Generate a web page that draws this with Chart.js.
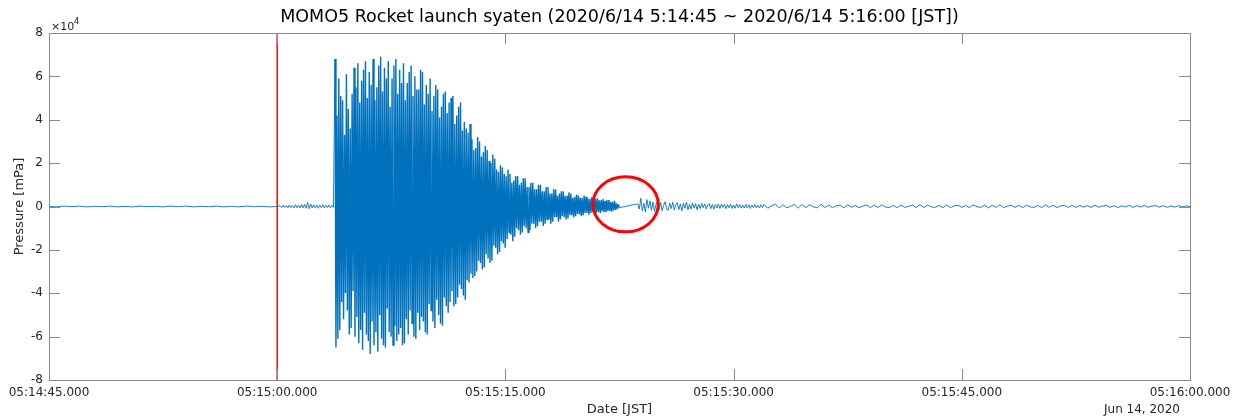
<!DOCTYPE html>
<html>
<head>
<meta charset="utf-8">
<title>MOMO5 Rocket launch</title>
<script src="https://cdn.jsdelivr.net/npm/chart.js@4.4.1/dist/chart.umd.min.js"></script>
<style>
  html, body { margin: 0; padding: 0; background: #fff; }
  #wrap { width: 1245px; height: 419px; }
</style>
</head>
<body>
<div id="wrap"><canvas id="chart" width="1245" height="419"></canvas></div>
<script>
// --- Data (time in seconds after 05:14:45, pressure in x10^4 mPa) ---
const xTickValues = [0, 15, 30, 45, 60, 75];
const xTickLabels = ['05:14:45.000', '05:15:00.000', '05:15:15.000', '05:15:30.000', '05:15:45.000', '05:16:00.000'];
const yTickValues = [-8, -6, -4, -2, 0, 2, 4, 6, 8];

// launch marker (red line) at 05:15:00
const launchTime = 15;

// quiet period before launch, one sample every 0.5 s
const quietStart = 0, quietStep = 0.5;
const quietValues = [0.01, -0.02, 0.02, -0.01, 0.02, -0.02, 0.01, -0.01, 0.02, -0.02,
  0.01, -0.02, 0.02, -0.01, 0.01, -0.02, 0.02, -0.01, 0.02, -0.02,
  0.01, -0.01, 0.02, -0.02, 0.01, -0.02, 0.02, -0.01, 0.01, -0.02, 0.0];

// low noise right after launch, every 0.1 s
const preStart = 15.2, preStep = 0.1;
const preValues = [0.03, -0.05, 0.06, -0.04, 0.05, -0.06, 0.07, -0.05, 0.04, -0.06,
  0.08, -0.05, 0.06, -0.07, 0.09, -0.06, 0.1, -0.08, 0.18, -0.1,
  0.12, -0.07, 0.08, -0.06, 0.07, -0.08, 0.06, -0.05, 0.09, -0.07,
  0.06, -0.05, 0.07, -0.06, 0.05, -0.04];

// main burst, one peak every 0.0625 s
const burstStart = 18.8, burstStep = 0.0625;
const burstValues = [
  6.8, -6.5, 4.2, -6.1, 5.9, -5.7, 5.1, -4.4, 4.9, -5.2, 3.3, -4.0, 6.1, -4.8, 4.5, -5.9, 3.6, -5.6, 5.2, -3.9,
  6.4, -6.0, 5.5, -5.1, 6.6, -6.3, 4.8, -5.7, 5.8, -6.6, 6.3, -4.9, 6.7, -5.9, 5.0, -6.2, 6.2, -6.8, 5.6, -5.3,
  6.8, -6.4, 4.9, -5.8, 5.5, -6.7, 6.5, -5.0, 6.9, -6.1, 5.3, -6.4, 6.4, -6.5, 5.9, -4.7, 6.7, -5.8, 4.6, -6.0,
  5.9, -6.4, 6.5, -5.5, 6.8, -6.2, 5.2, -5.9, 6.3, -5.6, 5.7, -6.4, 6.6, -6.3, 4.9, -5.2, 5.7, -5.9, 6.2, -4.8,
  6.5, -5.4, 5.1, -6.0, 6.0, -6.1, 5.4, -4.9, 5.4, -5.7, 6.3, -5.1, 6.2, -5.3, 4.7, -5.8, 5.6, -5.9, 5.2, -4.5,
  5.9, -4.8, 4.4, -5.3, 5.1, -5.6, 5.6, -4.3, 5.4, -5.0, 4.1, -5.4, 4.6, -5.5, 5.2, -4.2, 5.3, -4.6, 4.3, -4.9,
  4.8, -4.4, 5.0, -3.9, 5.1, -4.6, 3.8, -4.5, 4.2, -4.2, 4.6, -3.6, 4.8, -3.8, 3.5, -4.1, 3.9, -4.3, 3.6, -3.4,
  3.4, -3.5, 3.8, -3.1, 3.1, -3.3, 2.6, -3.2, 2.7, -3.0, 3.2, -2.5, 3.0, -2.6, 2.3, -2.9, 2.5, -2.8, 2.8, -2.2,
  2.6, -2.4, 2.1, -2.6, 2.0, -2.5, 2.4, -1.8, 2.2, -1.9, 1.7, -2.2, 1.6, -2.1, 1.9, -1.6, 1.8, -1.7, 1.5, -1.9,
  1.4, -1.5, 1.7, -1.2, 1.5, -1.3, 1.1, -1.6, 1.2, -1.4, 1.4, -1.0, 1.4, -1.1, 1.0, -1.3, 1.1, -1.2, 1.3, -0.9,
  1.3, -1.0, 0.9, -1.2, 0.9, -1.1, 1.1, -0.8, 1.1, -0.8, 0.8, -1.0, 0.8, -0.9, 1.0, -0.7, 1.0, -0.7, 0.7, -0.9,
  0.7, -0.8, 0.9, -0.6, 0.9, -0.6, 0.6, -0.8, 0.6, -0.7, 0.8, -0.5, 0.8, -0.5, 0.5, -0.7, 0.6, -0.6, 0.7, -0.45,
  0.7, -0.5, 0.5, -0.6, 0.5, -0.55, 0.65, -0.4, 0.6, -0.4, 0.4, -0.5, 0.45, -0.45, 0.55, -0.35, 0.5, -0.35, 0.4, -0.45,
  0.4, -0.4, 0.5, -0.3, 0.45, -0.3, 0.35, -0.38, 0.35, -0.3, 0.42, -0.25, 0.3, -0.28, 0.36, -0.3, 0.38, -0.25, 0.28, -0.3,
  0.3, -0.22, 0.34, -0.26, 0.25, -0.25, 0.3, -0.2, 0.3, -0.2, 0.22, -0.24, 0.22, -0.18, 0.26, -0.16, 0.15, -0.12, 0.1, -0.05];
const burstEnd = burstStart + (burstValues.length - 1) * burstStep;

// first part of the tail after the data gap, every 0.1 s
const tailNearStart = 38.7, tailNearStep = 0.1;
const tailNearValues = [
  0.12, -0.12, 0.38, -0.2, 0.15, -0.25, 0.32, -0.08, 0.26, -0.18,
  0.2, -0.22, 0.1, 0.24, -0.15, 0.18, -0.2, 0.05, 0.22, -0.12,
  -0.18, 0.16, -0.1, 0.2, -0.16, 0.08, 0.18, -0.14, 0.12, -0.2,
  0.15, -0.08, 0.2, -0.15, 0.1, -0.12, 0.17, -0.06, 0.13, -0.15,
  0.11, -0.1, 0.14, -0.05, 0.12, -0.11, 0.08, 0.13, -0.1, 0.1,
  -0.12, 0.09, -0.07, 0.12, -0.09, 0.11, -0.04, 0.1, -0.1, 0.08,
  -0.06, 0.11, -0.09, 0.07, -0.08, 0.12, -0.05, 0.09, -0.08, 0.06,
  -0.07, 0.1, -0.06, 0.08, -0.09, 0.07, -0.05, 0.09, -0.06, 0.05,
  -0.07, 0.08, -0.05];

// rest of the tail, every 0.25 s
const tailFarStart = 47.0, tailFarStep = 0.25;
const tailFarValues = [
  0.1, -0.08, 0.04, 0.11, -0.07, 0.08, -0.06, 0.01, 0.1, -0.07, 0.09, -0.05, 0.08, -0.02, -0.06, 0.1, -0.05, 0.07, -0.05, 0.03,
  0.06, -0.06, 0.08, -0.04, 0.05, -0.06, 0.02, 0.07, -0.05, 0.06, -0.04, 0.08, -0.03, -0.05, 0.05, -0.06, 0.07, -0.04, 0.01, 0.06,
  -0.05, 0.09, -0.05, 0.06, -0.02, -0.04, 0.05, -0.06, 0.07, -0.05, 0.03, 0.06, -0.04, 0.05, -0.05, 0.07, -0.01, -0.04, 0.06, -0.06,
  0.05, -0.04, 0.08, -0.05, 0.02, 0.06, -0.04, 0.05, -0.05, 0.06, -0.02, -0.04, 0.05, -0.05, 0.07, -0.04, 0.06, -0.05, 0.03, 0.05,
  -0.04, 0.05, -0.04, 0.05, -0.03, 0.04, -0.04, 0.06, -0.03, 0.02, 0.05, -0.04, 0.04, -0.05, 0.03, -0.02, 0.05, -0.04, 0.04, -0.03,
  0.05, -0.04, 0.02, 0.04, -0.03, 0.04, -0.04, 0.03, -0.03, 0.04, -0.02, 0.03, -0.01];

// red circle around the data gap (centre and radii in data units)
const circleCenter = { x: 37.9, y: 0.1 };
const circleRadius = { x: 2.15, y: 1.27 };

// --- Build points ---
function segment(t0, step, values) {
  return values.map((v, i) => ({ x: t0 + i * step, y: v }));
}

const pressurePoints = [].concat(
  segment(quietStart, quietStep, quietValues),
  segment(preStart, preStep, preValues),
  segment(burstStart, burstStep, burstValues),
  segment(tailNearStart, tailNearStep, tailNearValues),
  segment(tailFarStart, tailFarStep, tailFarValues)
);

const FONT = "'DejaVu Sans', Verdana, sans-serif";
const TEXT_COLOR = '#262626';
const AXIS_COLOR = '#8a8a8a';

// Box, inward ticks, annotation and extra labels
const matlabAxes = {
  id: 'matlabAxes',
  afterDatasetsDraw(chart) {
    const { ctx, chartArea: a, scales: { x, y } } = chart;
    ctx.save();
    // red ellipse
    const cx = x.getPixelForValue(circleCenter.x);
    const cy = y.getPixelForValue(circleCenter.y);
    const rx = x.getPixelForValue(circleCenter.x + circleRadius.x) - cx;
    const ry = cy - y.getPixelForValue(circleCenter.y + circleRadius.y);
    ctx.strokeStyle = '#FF0000';
    ctx.lineWidth = 3;
    ctx.beginPath();
    ctx.ellipse(cx, cy, rx, ry, 0, 0, Math.PI * 2);
    ctx.stroke();

    // box
    ctx.strokeStyle = AXIS_COLOR;
    ctx.lineWidth = 1;
    ctx.strokeRect(Math.round(a.left) + 0.5, Math.round(a.top) + 0.5,
      Math.round(a.right - a.left), Math.round(a.bottom - a.top));

    // inward ticks
    const tl = 11;
    ctx.beginPath();
    xTickValues.forEach(v => {
      const px = Math.round(x.getPixelForValue(v)) + 0.5;
      ctx.moveTo(px, a.bottom); ctx.lineTo(px, a.bottom - tl);
      ctx.moveTo(px, a.top); ctx.lineTo(px, a.top + tl);
    });
    yTickValues.forEach(v => {
      const py = Math.round(y.getPixelForValue(v)) + 0.5;
      ctx.moveTo(a.left, py); ctx.lineTo(a.left + tl, py);
      ctx.moveTo(a.right, py); ctx.lineTo(a.right - tl, py);
    });
    ctx.stroke();

    // title
    const midX = (a.left + a.right) / 2;
    ctx.fillStyle = '#000';
    ctx.font = '17.5px ' + FONT;
    ctx.textAlign = 'center';
    ctx.textBaseline = 'middle';
    ctx.fillText('MOMO5 Rocket launch syaten (2020/6/14 5:14:45 ~ 2020/6/14 5:16:00 [JST])', midX, 17);

    // x axis title and date
    ctx.fillStyle = TEXT_COLOR;
    ctx.font = '13px ' + FONT;
    ctx.fillText('Date [JST]', midX, 410);
    ctx.font = '12px ' + FONT;
    ctx.textAlign = 'right';
    ctx.fillText('Jun 14, 2020', 1180, 410);

    // exponent
    ctx.textAlign = 'left';
    ctx.textBaseline = 'alphabetic';
    ctx.font = '11px ' + FONT;
    ctx.fillText('\u00d710', a.left + 2, 30);
    ctx.font = '8px ' + FONT;
    ctx.fillText('4', a.left + 25, 24);

    // y axis title
    ctx.translate(20, (a.top + a.bottom) / 2);
    ctx.rotate(-Math.PI / 2);
    ctx.textAlign = 'center';
    ctx.textBaseline = 'middle';
    ctx.font = '13px ' + FONT;
    ctx.fillText('Pressure [mPa]', 0, 0);
    ctx.restore();
  }
};

const tickFont = { family: FONT, size: 12 };

new Chart(document.getElementById('chart'), {
  type: 'line',
  data: {
    datasets: [
      {
        label: 'Launch',
        data: [{ x: launchTime, y: -8 }, { x: launchTime, y: 8 }],
        borderColor: '#FF0000',
        borderWidth: 1.5,
        pointRadius: 0,
        order: 1
      },
      {
        label: 'Pressure',
        data: pressurePoints,
        borderColor: '#0072BD',
        borderWidth: 0.9,
        borderJoinStyle: 'bevel',
        pointRadius: 0,
        tension: 0,
        // the burst is drawn a little heavier so the dense trace fills in
        segment: {
          borderWidth: c => (c.p0.parsed.x >= burstStart && c.p1.parsed.x <= burstEnd) ? 1.4 : 0.9
        },
        order: 2
      }
    ]
  },
  options: {
    responsive: false,
    animation: false,
    layout: { padding: { top: 33, right: 55, left: 0, bottom: 0 } },
    plugins: { legend: { display: false }, tooltip: { enabled: false } },
    scales: {
      x: {
        type: 'linear',
        min: 0,
        max: 75,
        afterBuildTicks: s => { s.ticks = xTickValues.map(v => ({ value: v })); },
        ticks: {
          callback: v => xTickLabels[xTickValues.indexOf(v)],
          font: tickFont,
          color: TEXT_COLOR,
          padding: 6,
          maxRotation: 0,
          autoSkip: false
        },
        grid: { display: false, drawTicks: false },
        border: { display: false },
        afterFit: s => { s.height = 39; }
      },
      y: {
        min: -8,
        max: 8,
        afterBuildTicks: s => { s.ticks = yTickValues.map(v => ({ value: v })); },
        ticks: { font: tickFont, color: TEXT_COLOR, padding: 6 },
        grid: { display: false, drawTicks: false },
        border: { display: false },
        afterFit: s => { s.width = 49; }
      }
    }
  },
  plugins: [matlabAxes]
});
</script>
</body>
</html>
